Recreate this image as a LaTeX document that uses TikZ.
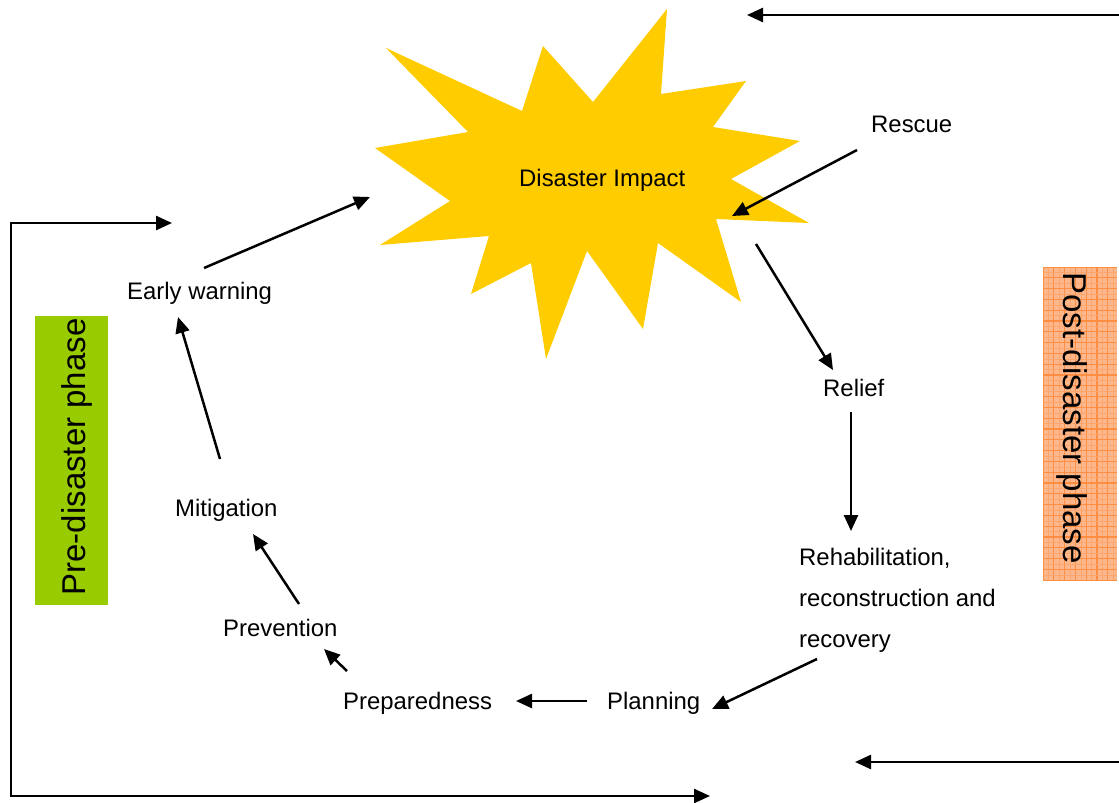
\documentclass[tikz,border=0pt]{standalone}
\usepackage{fontspec}
\setmainfont{Liberation Sans}
\usetikzlibrary{arrows.meta,calc}
\definecolor{burstyellow}{HTML}{FFCC00}
\definecolor{pregreen}{HTML}{99CC00}
\definecolor{postbase}{RGB}{252,184,140}
\definecolor{postgrid}{RGB}{255,142,66}
\begin{document}
\begin{tikzpicture}[x=1pt,y=-1pt,
  lbl/.style={inner sep=0pt, anchor=base west, font=\fontsize{23.9}{28}\selectfont},
  flow/.style={line width=2.5pt, -{Triangle[length=16pt,width=14pt]}},
  phase/.style={inner sep=0pt, font=\fontsize{33}{40}\selectfont, anchor=base}]
\useasboundingbox (0,0) rectangle (1119,803);

% the disaster starburst
\fill[burstyellow] (386,48) -- (522,111) -- (543,46) -- (593,102) -- (667,9)
  -- (661,94) -- (746,81) -- (713,127) -- (800,141) -- (731,179) -- (809,223)
  -- (716,219) -- (741,302) -- (658,243) -- (643,329) -- (587,251) -- (546,359)
  -- (531,263) -- (471,294) -- (489,236) -- (380,245) -- (450,201) -- (375,148)
  -- (468,132) -- cycle;
\coordinate (burst) at (592,190);

% phase bars
\fill[pregreen] (35,316) rectangle (108,605);
\node[phase, rotate=90] (pre) at (85,457) {Pre-disaster phase};

\fill[postbase] (1043,267) rectangle (1117,580);
\begin{scope}
  \clip (1043,267) rectangle (1117,580);
  \foreach \i in {0,...,7} {
    \draw[postgrid, line width=1.1pt] (1043+10.8*\i,267) -- (1043+10.8*\i,580);
    \draw[postgrid!40!postbase, line width=0.6pt] (1048.4+10.8*\i,267) -- (1048.4+10.8*\i,580);
  }
  \foreach \j in {0,...,29} {
    \draw[postgrid, line width=1.1pt] (1043,267+10.8*\j) -- (1117,267+10.8*\j);
    \draw[postgrid!40!postbase, line width=0.6pt] (1043,272.4+10.8*\j) -- (1117,272.4+10.8*\j);
  }
\end{scope}
\node[phase, rotate=-90] (post) at (1063,418) {Post-disaster phase};

% stage labels
\node[lbl] (impact) at (519,186) {Disaster Impact};
\node[lbl] (rescue) at (871,132) {Rescue};
\node[lbl] (relief) at (823,396) {Relief};
\node[lbl, anchor=north west, align=left, font=\fontsize{23.9}{41.2}\selectfont]
  (rehab) at (799,547.5) {Rehabilitation,\\reconstruction and\\recovery};
\node[lbl] (planning) at (607,709) {Planning};
\node[lbl] (prep) at (343,709) {Preparedness};
\node[lbl] (prevention) at (223,636) {Prevention};
\node[lbl] (mitigation) at (175,516) {Mitigation};
\node[lbl] (early) at (127,299) {Early warning};

% cycle arrows
\draw[flow] ([shift={(-14,18)}]rescue.base west) -- ([shift={(140,26)}]burst);
\draw[flow] ([shift={(164,54)}]burst) -- ([shift={(10,-26)}]relief.base west);
\draw[flow] ([shift={(28,16)}]relief.base west) -- ([shift={(52,-16.5)}]rehab.north west);
\draw[flow] ([shift={(18,111.5)}]rehab.north west) -- ([shift={(105,0)}]planning.base west);
\draw[flow] ([shift={(-20,-8)}]planning.base west) -- ([shift={(173,-8)}]prep.base west);
\draw[flow] ([shift={(4,-38)}]prep.base west) -- ([shift={(101,13)}]prevention.base west);
\draw[flow] ([shift={(76,-32)}]prevention.base west) -- ([shift={(78,18)}]mitigation.base west);
\draw[flow] ([shift={(45,-57)}]mitigation.base west) -- ([shift={(51,18)}]early.base west);
\draw[flow] ([shift={(77,-31)}]early.base west) -- ([shift={(-222,7)}]burst);

% phase transfer arrows
\coordinate (topin) at (1119,15);
\coordinate (topout) at (747,15);
\coordinate (botin) at (1119,762);
\coordinate (botout) at (855,762);
\coordinate (loopstart) at (172,223);
\coordinate (loopend) at (710,796);
\draw[flow] (topin) -- (topout);
\draw[flow] (botin) -- (botout);
\draw[line width=2.5pt, {Triangle[length=16pt,width=14pt]}-{Triangle[length=16pt,width=14pt]}]
  (loopstart) -- (11,223) |- (loopend);
\end{tikzpicture}
\end{document}
